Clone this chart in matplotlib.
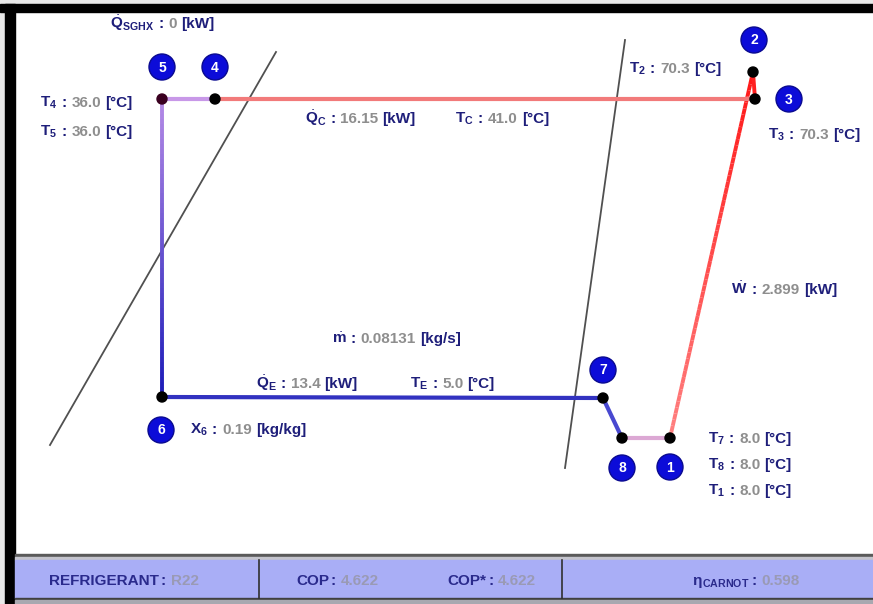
import matplotlib
matplotlib.use('Agg')
import matplotlib.pyplot as plt
import numpy as np
from matplotlib.patches import Circle, Rectangle
from matplotlib.collections import LineCollection
from matplotlib.colors import LinearSegmentedColormap

plt.rcParams['font.family'] = ['Liberation Sans', 'DejaVu Sans']
plt.rcParams['mathtext.fontset'] = 'custom'
plt.rcParams['mathtext.rm'] = 'Liberation Sans'
plt.rcParams['mathtext.bf'] = 'Liberation Sans:bold'
plt.rcParams['mathtext.it'] = 'Liberation Sans:italic'
plt.rcParams['mathtext.sf'] = 'Liberation Sans'

# ---------------- data ----------------
state_ids = [1, 2, 3, 4, 5, 6, 7, 8]
state_x = [670, 753, 755, 215, 162, 162, 603, 622]
state_y = [438, 72, 99, 99, 99, 397, 398, 438]
badge_x = [670, 754, 789, 215, 162, 161, 603, 622]
badge_y = [467, 40, 99, 67, 67, 430, 370, 468]

sat_left_x = [50, 276]
sat_left_y = [445, 52]
sat_right_x = [565, 625]
sat_right_y = [468, 40]

T_values = {1: '8.0', 2: '70.3', 3: '70.3', 4: '36.0', 5: '36.0', 7: '8.0', 8: '8.0'}
Q_sghx = '0'
Q_c = '16.15'
T_c = '41.0'
W_comp = '2.899'
m_dot = '0.08131'
Q_e = '13.4'
T_e = '5.0'
x6 = '0.19'
refrigerant = 'R22'
cop = '4.622'
cop_star = '4.622'
eta_carnot = '0.598'

NAVY = '#1e1e7a'
GRAY = '#8e8e8e'

W, H = 873, 604
fig = plt.figure(figsize=(W / 100, H / 100), dpi=100)
ax = fig.add_axes([0, 0, 1, 1])
ax.set_xlim(0, W)
ax.set_ylim(H, 0)
ax.axis('off')

# frame
ax.add_patch(Rectangle((0, 0), W, H, color='#e8e8e8', zorder=0))
ax.add_patch(Rectangle((15, 12), W - 15, 543, color='white', zorder=0.5))
ax.add_patch(Rectangle((0, 4), W, 8, color='black', zorder=1))
ax.add_patch(Rectangle((5, 4), 10, H - 4, color='black', zorder=1))
# bottom bar
ax.add_patch(Rectangle((15, 554), W - 15, 3, color='#5a5a5a', zorder=1))
ax.add_patch(Rectangle((15, 557), W - 15, 3, color='#c4c4cc', zorder=1))
ax.add_patch(Rectangle((15, 560), W - 15, 38, color='#a9aef6', zorder=1))
ax.add_patch(Rectangle((15, 598), W - 15, 2, color='#404040', zorder=1))
ax.add_patch(Rectangle((15, 600), W - 15, 4, color='#a8a8b0', zorder=1))
for dx in [259, 562]:
    ax.plot([dx, dx], [560, 598], color='#303030', lw=1.2, zorder=2)

# saturation dome lines
ax.plot(sat_left_x, sat_left_y, color='#505050', lw=1.3, zorder=2)
ax.plot(sat_right_x, sat_right_y, color='#505050', lw=1.3, zorder=2)

px = dict(zip(state_ids, state_x))
py = dict(zip(state_ids, state_y))


def seg(a, b, color, lw=2.6):
    ax.plot([px[a], px[b]], [py[a], py[b]], color=color, lw=lw,
            solid_capstyle='round', zorder=3)


def grad_seg(a, b, c0, c1, lw=2.6, n=60):
    t = np.linspace(0, 1, n + 1)
    xs = px[a] + (px[b] - px[a]) * t
    ys = py[a] + (py[b] - py[a]) * t
    pts = np.column_stack([xs, ys]).reshape(-1, 1, 2)
    segs = np.concatenate([pts[:-1], pts[1:]], axis=1)
    cmap = LinearSegmentedColormap.from_list('g', [c0, c1])
    lc = LineCollection(segs, colors=cmap(t[:-1]), linewidths=lw, zorder=3)
    ax.add_collection(lc)


grad_seg(1, 2, '#ff8080', '#ff1515', lw=2.8)
seg(2, 3, '#ff2020', lw=2.8)
seg(3, 4, '#f27a7a', lw=3.0)
seg(4, 5, '#c898e8', lw=3.0)
grad_seg(5, 6, '#b48ae6', '#1a1ab8', lw=2.8)
seg(6, 7, '#3232c0', lw=3.0)
seg(7, 8, '#4848d0', lw=3.0)
seg(8, 1, '#dca8d4', lw=3.0)

# state dots
for s in state_ids:
    col = '#3a0020' if s == 5 else 'black'
    ax.add_patch(Circle((px[s], py[s]), 5, color=col, zorder=5))

# badges
for s, bx, by in zip(state_ids, badge_x, badge_y):
    ax.add_patch(Circle((bx, by), 13, facecolor='#0c0cd8', edgecolor='#0a0a90',
                        lw=1.0, zorder=5))
    ax.text(bx, by + 0.5, str(s), color='white', fontsize=10, fontweight='bold',
            ha='center', va='center', zorder=6)

fig.canvas.draw()
renderer = fig.canvas.get_renderer()


def rich(x, y, pieces, size=11):
    cx = x
    for s, c, gap in pieces:
        t = ax.text(cx, y, s, color=c, fontsize=size, fontweight='bold',
                    ha='left', va='baseline', zorder=6)
        bb = t.get_window_extent(renderer)
        cx += bb.width + gap


def label(sym, sub, value, unit, x, y, dot=False, size=11):
    if dot:
        lab = r'$\dot{\mathbf{%s}}_{\mathbf{%s}}$' % (sym, sub) if sub else r'$\dot{\mathbf{%s}}$' % sym
    else:
        lab = r'$\mathbf{%s}_{\mathbf{%s}}$' % (sym, sub)
    rich(x, y, [(lab, NAVY, 4), (':', NAVY, 5), (value, GRAY, 4), (unit, NAVY, 0)], size=size)


label('Q', 'SGHX', Q_sghx, '[kW]', 110, 28, dot=True)
label('T', '4', T_values[4], '[°C]', 40, 107)
label('T', '5', T_values[5], '[°C]', 40, 136)
label('Q', 'C', Q_c, '[kW]', 305, 123, dot=True)
label('T', 'C', T_c, '[°C]', 455, 123)
label('T', '2', T_values[2], '[°C]', 629, 73)
label('T', '3', T_values[3], '[°C]', 768, 139)
label('W', '', W_comp, '[kW]', 731, 294, dot=True)
label('m', '', m_dot, '[kg/s]', 332, 343, dot=True)
label('Q', 'E', Q_e, '[kW]', 256, 388, dot=True)
label('T', 'E', T_e, '[°C]', 410, 388)
label('X', '6', x6, '[kg/kg]', 190, 434)
label('T', '7', T_values[7], '[°C]', 708, 443)
label('T', '8', T_values[8], '[°C]', 708, 469)
label('T', '1', T_values[1], '[°C]', 708, 495)

BAR_NAVY = '#2a2a8c'
BAR_GRAY = '#9a9ab4'
bsize = 11
rich(49, 585, [('REFRIGERANT', BAR_NAVY, 2), (':', BAR_NAVY, 5), (refrigerant, BAR_GRAY, 0)], size=bsize)
rich(296, 585, [('COP', BAR_NAVY, 2), (':', BAR_NAVY, 5), (cop, BAR_GRAY, 0)], size=bsize)
rich(447, 585, [('COP*', BAR_NAVY, 2), (':', BAR_NAVY, 5), (cop_star, BAR_GRAY, 0)], size=bsize)
rich(692, 585, [('η', BAR_NAVY, 0), (r'${}_{\mathbf{CARNOT}}$', BAR_NAVY, 2), (':', BAR_NAVY, 5),
                (eta_carnot, BAR_GRAY, 0)], size=bsize)

fig.savefig('out.png', dpi=100)
